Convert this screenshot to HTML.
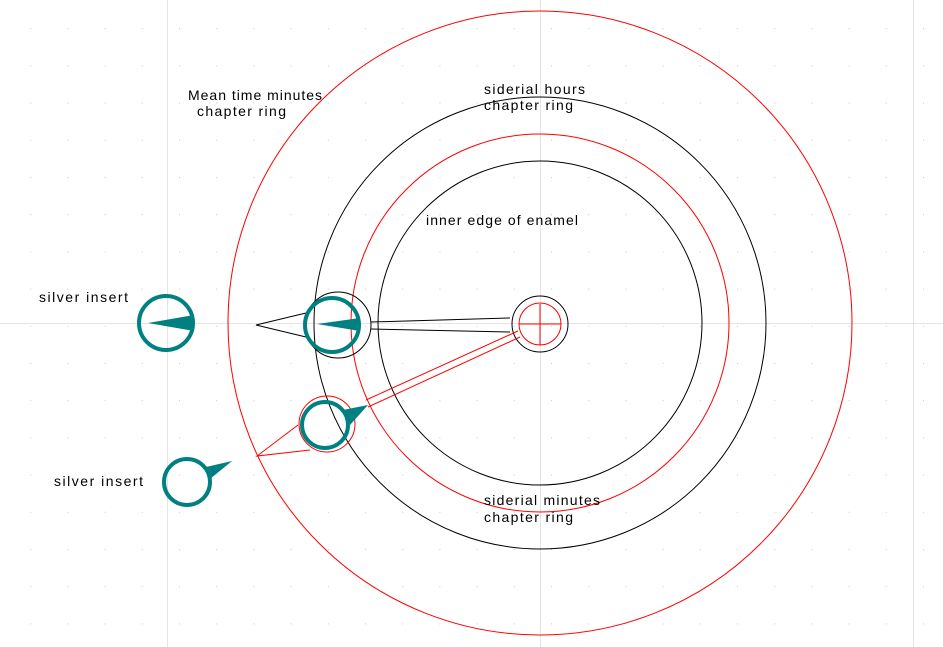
<!DOCTYPE html>
<html><head><style>
html,body{margin:0;padding:0;background:#fff;}
svg{display:block;}
text{font-family:"Liberation Sans",sans-serif;font-size:14px;fill:#000;}
</style></head><body>
<svg width="943" height="647" viewBox="0 0 943 647" xmlns="http://www.w3.org/2000/svg">
<defs>
<pattern id="dots" x="-7" y="-9" width="37.2" height="37.2" patternUnits="userSpaceOnUse">
<rect x="0" y="0" width="1" height="1" fill="#c8c8c8"/>
</pattern>
</defs>
<rect width="943" height="647" fill="url(#dots)"/>
<g stroke="#e4e4e4" stroke-width="1">
<line x1="167.5" y1="0" x2="167.5" y2="647"/>
<line x1="540.5" y1="0" x2="540.5" y2="647"/>
<line x1="913.5" y1="0" x2="913.5" y2="647"/>
<line x1="0" y1="323.5" x2="943" y2="323.5"/>
</g>
<g fill="none" stroke-width="1">
<circle cx="540" cy="323" r="312" stroke="#f00"/>
<circle cx="540" cy="323" r="226" stroke="#000"/>
<circle cx="540" cy="323" r="189" stroke="#f00"/>
<circle cx="540" cy="323" r="162" stroke="#000"/>
<circle cx="540" cy="324" r="28" stroke="#000"/>
<circle cx="540" cy="324" r="21" stroke="#f00"/>
<line x1="519" y1="324" x2="561" y2="324" stroke="#f00"/>
<line x1="540" y1="304" x2="540" y2="345" stroke="#f00"/>
<circle cx="338" cy="325" r="33" stroke="#000"/>
<path d="M306,313 L256,325 L306,337" stroke="#000"/>
<path d="M371,322 L510,318 M371,329 L510,332" stroke="#000"/>
<circle cx="327" cy="424" r="28" stroke="#f00"/>
<path d="M366,400 L518,331 M368,407 L520,337" stroke="#f00"/>
<path d="M298,425 L257,456 L310,450" stroke="#f00"/>
</g>
<g fill="#008080" stroke="none">
<polygon points="317,324 360,318 360,331"/>
<polygon points="148,323 194,315 194,331"/>
<polygon points="368,405 343,410 350,425"/>
<polygon points="232,461 206,467 210,479"/>
</g>
<g fill="none" stroke="#008080" stroke-width="4">
<circle cx="332" cy="325" r="27"/>
<circle cx="166" cy="323" r="27"/>
<circle cx="325" cy="425" r="23"/>
<circle cx="187" cy="482" r="23"/>
</g>
<text x="188" y="100" textLength="134" lengthAdjust="spacing">Mean time minutes</text>
<text x="197" y="116" textLength="89" lengthAdjust="spacing">chapter ring</text>
<text x="484" y="94" textLength="101" lengthAdjust="spacing">siderial hours</text>
<text x="484" y="110" textLength="89" lengthAdjust="spacing">chapter ring</text>
<text x="426" y="225" textLength="152" lengthAdjust="spacing">inner edge of enamel</text>
<text x="39" y="302" textLength="89" lengthAdjust="spacing">silver insert</text>
<text x="54" y="486" textLength="89" lengthAdjust="spacing">silver insert</text>
<text x="484" y="505" textLength="116" lengthAdjust="spacing">siderial minutes</text>
<text x="484" y="522" textLength="89" lengthAdjust="spacing">chapter ring</text>
</svg>
</body></html>
